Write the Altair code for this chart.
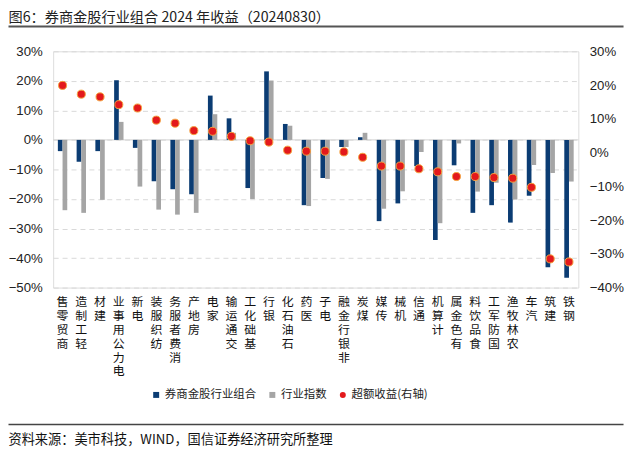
import altair as alt
import pandas as pd

categories = ["商贸零售", "轻工制造", "建材", "电力公用事业", "电新", "纺织服装", "消费者服务",
              "房地产", "家电", "交通运输", "基础化工", "银行", "石油石化", "医药", "电子",
              "非银行金融", "煤炭", "传媒", "机械", "通信", "计算机", "有色金属", "食品饮料",
              "国防军工", "农林牧渔", "汽车", "建筑", "钢铁"]
portfolio = [-3.8, -7.4, -3.8, 20.2, -2.7, -14.0, -16.7, -18.4, 15.0, 7.3, -16.3, 23.2, 5.4, -22.1,
             -12.9, -2.4, 0.9, -27.5, -21.5, -8.9, -33.9, -8.6, -24.7, -22.1, -28.0, -18.9, -43.1, -46.7]
industry = [-23.8, -24.7, -20.3, 6.1, -15.8, -23.6, -25.3, -24.7, 8.7, 2.4, -20.0, 20.1, 4.8, -22.4,
            -13.2, -2.4, 2.4, -23.3, -17.4, -4.1, -28.2, -1.2, -17.5, -14.5, -20.2, -8.5, -11.2, -14.1]
excess = [19.9, 17.3, 16.5, 14.2, 13.2, 9.6, 8.7, 6.5, 6.3, 4.8, 3.5, 3.1, 0.7, 0.4,
          0.4, 0.2, -1.4, -4.0, -4.0, -4.8, -5.7, -7.1, -7.1, -7.4, -7.6, -10.3, -31.5, -32.4]
series_names = ["券商金股行业组合", "行业指数", "超额收益(右轴)"]
left_ticks = [-0.5, -0.4, -0.3, -0.2, -0.1, 0.0, 0.1, 0.2, 0.3]
right_ticks = [-0.4, -0.3, -0.2, -0.1, 0.0, 0.1, 0.2, 0.3]
title_text = "图6：券商金股行业组合 2024 年收益（20240830）"
source_text = "资料来源：美市科技，WIND，国信证券经济研究所整理"

CJK = "Noto Sans CJK SC"
NUM = "Liberation Sans"

bars_df = pd.DataFrame({
    "industry": categories * 2,
    "series": [series_names[0]] * len(categories) + [series_names[1]] * len(categories),
    "value": [v / 100 for v in portfolio] + [v / 100 for v in industry],
})
pts_df = pd.DataFrame({
    "industry": categories,
    "series": [series_names[2]] * len(categories),
    "value": [v / 100 for v in excess],
})

color_scale = alt.Scale(domain=series_names, range=["#0B3C73", "#A5A5A5", "#E3191C"])
shape_scale = alt.Scale(domain=series_names, range=["square", "square", "circle"])

legend = alt.Legend(title=None, orient="none", legendX=98, legendY=340, direction="horizontal",
                    labelFont=CJK, labelFontSize=11.5, labelColor="#222", symbolSize=36,
                    columnPadding=10, labelOffset=3, symbolStrokeWidth=0)

x_enc = alt.X("industry:N", sort=categories,
              scale=alt.Scale(paddingInner=0.5, paddingOuter=0.25),
              axis=alt.Axis(title=None, labelAngle=0,
                            labelExpr="reverse(split(datum.label, ''))",
                            labelBaseline="top", labelAlign="center", labelPadding=9,
                            labelFont=CJK, labelFontSize=12, labelLineHeight=14,
                            labelColor="#111", domain=False, ticks=False,
                            labelOverlap=False, grid=False))

left_y = alt.Y("value:Q", scale=alt.Scale(domain=[-0.5, 0.3], nice=False),
               axis=alt.Axis(title=None, orient="left", values=left_ticks, format=".0%",
                             grid=True, gridDash=[5, 4], gridColor="#D9D9D9",
                             domain=False, ticks=False, labelPadding=11,
                             labelFont=NUM, labelFontSize=13.3, labelColor="#222"))

right_y = alt.Y("value:Q", scale=alt.Scale(domain=[-0.4, 0.3], nice=False),
                axis=alt.Axis(title=None, orient="right", values=right_ticks, format=".0%",
                              grid=False, domain=False, ticks=False, labelPadding=11,
                              labelFont=NUM, labelFontSize=13.3, labelColor="#222"))

zero = alt.Chart(pd.DataFrame({"value": [0.0]})).mark_rule(color="#D4D4D4", strokeWidth=1).encode(
    y=left_y)

bars = alt.Chart(bars_df).mark_bar().encode(
    x=x_enc,
    xOffset=alt.XOffset("series:N", sort=series_names[:2],
                        scale=alt.Scale(paddingInner=0, paddingOuter=0)),
    y=left_y,
    color=alt.Color("series:N", scale=color_scale, legend=legend),
)

points = alt.Chart(pts_df).mark_point(filled=True, size=66, stroke="#F4A340",
                                      strokeWidth=1, opacity=1).encode(
    x=x_enc,
    y=right_y,
    color=alt.Color("series:N", scale=color_scale, legend=legend),
    shape=alt.Shape("series:N", scale=shape_scale, legend=legend),
)

title_mark = alt.Chart(pd.DataFrame({"t": [title_text]})).mark_text(
    align="left", baseline="alphabetic", font=CJK, fontSize=14.3, color="#222"
).encode(x=alt.value(-45), y=alt.value(-29.5), text="t:N")

source_mark = alt.Chart(pd.DataFrame({"t": [source_text]})).mark_text(
    align="left", baseline="alphabetic", font=CJK, fontSize=13.3, color="#111"
).encode(x=alt.value(-45), y=alt.value(396), text="t:N")

rule_top = alt.Chart(pd.DataFrame({"a": [0]})).mark_rule(color="#555555", strokeWidth=2).encode(
    x=alt.value(-45), x2=alt.value(574.5), y=alt.value(-25))
rule_bottom = alt.Chart(pd.DataFrame({"a": [0]})).mark_rule(color="#444444", strokeWidth=1.5).encode(
    x=alt.value(-45), x2=alt.value(574.5), y=alt.value(376))

chart = alt.layer(
    alt.layer(zero, bars),
    points,
    title_mark, source_mark, rule_top, rule_bottom,
).resolve_scale(y="independent").properties(
    width=529, height=238,
    autosize=alt.AutoSizeParams(type="none"),
    padding={"left": 45.5, "top": 42, "right": 50, "bottom": 163},
).configure_view(stroke=None).configure(background="white")

chart.save("out.html", embed_options={"renderer": "svg", "actions": False})
